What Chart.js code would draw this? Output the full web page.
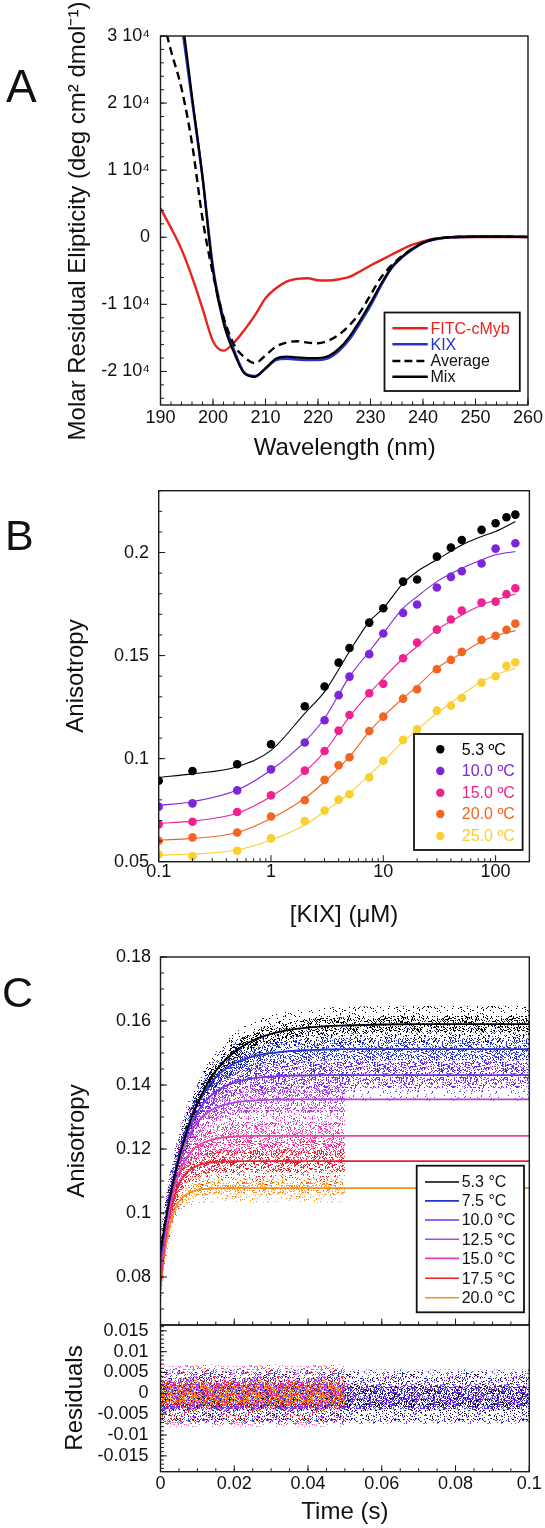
<!DOCTYPE html>
<html lang="en"><head><meta charset="utf-8"><title>Figure</title>
<script src="https://cdn.jsdelivr.net/npm/chart.js@4.4.1/dist/chart.umd.min.js"></script>
<style>
html,body{margin:0;padding:0;background:#ffffff;}
body{width:545px;height:1528px;position:relative;overflow:hidden;}
canvas{position:absolute;left:0;}
</style></head><body>
<canvas id="chartA" width="545" height="470" style="top:0px"></canvas>
<canvas id="chartB" width="545" height="490" style="top:460px"></canvas>
<canvas id="chartC" width="545" height="425" style="top:925px"></canvas>
<canvas id="chartR" width="545" height="238" style="top:1290px"></canvas>
<script>
// ---------------- Panel A : CD spectra ----------------
const aWavelength = [190,192,194,196,198,200,202,204,206,208,210,212,214,216,218,220,222,224,226,228,230,232,234,236,238,240,242,245,250,255,260];
const aFitcCmyb = [4300,1400,-1800,-5900,-10600,-15500,-16900,-15700,-13800,-11600,-9100,-7600,-6600,-6200,-6100,-6400,-6450,-6250,-5900,-5100,-4200,-3400,-2600,-1800,-1100,-600,-250,-30,50,50,0];
const aKix = [55000,44000,32000,20500,9000,-4500,-12200,-16800,-20200,-20700,-19600,-18300,-18100,-18200,-18300,-18300,-18000,-16900,-15200,-12800,-10200,-7200,-4600,-3000,-1800,-850,-350,0,100,100,50];
const aAverage = [34000,27800,22200,14000,2800,-5500,-11900,-16000,-17900,-18760,-17600,-16300,-15700,-15500,-15700,-15800,-15400,-14500,-13100,-11200,-8600,-6000,-4200,-2800,-1700,-800,-300,0,100,100,50];
const aMix = [56000,45000,33500,21000,9000,-5000,-12800,-17200,-20300,-20800,-19500,-18100,-17800,-17900,-18000,-18000,-17700,-16600,-14800,-12400,-9800,-7000,-4500,-2900,-1700,-800,-300,0,100,100,50];
const aLabels = ['FITC-cMyb','KIX','Average','Mix'];
const aXTicks = [190,200,210,220,230,240,250,260];
const aXTickLabels = ['190','200','210','220','230','240','250','260'];
const aYTicks = [-20000,-10000,0,10000,20000,30000];
const aYTickLabels = ['-2 10\u2074','-1 10\u2074','0','1 10\u2074','2 10\u2074','3 10\u2074'];

// ---------------- Panel B : anisotropy titrations ----------------
const bConc = [0.1,0.2,0.5,1,2,3,4,5,7.5,10,15,20,30,40,50,75,100,125,150];
const b53 = [0.0893,0.0940,0.0973,0.1070,0.1254,0.1350,0.1466,0.1537,0.1660,0.1730,0.1859,0.1869,0.1980,0.2024,0.2061,0.2110,0.2142,0.2171,0.2184];
const b100 = [0.0767,0.0783,0.0846,0.0948,0.1078,0.1186,0.1308,0.1398,0.1507,0.1607,0.1707,0.1748,0.1830,0.1882,0.1909,0.1947,0.2019,null,0.2045];
const b150 = [0.0681,0.0694,0.0741,0.0822,0.0942,0.1037,0.1136,0.1212,0.1317,0.1363,0.1487,0.1563,0.1626,0.1675,0.1718,0.1757,0.1762,0.1798,0.1827];
const b200 = [0.0602,0.0618,0.0642,0.0719,0.0798,0.0897,0.0968,0.1007,0.1134,0.1204,0.1291,0.1337,0.1434,0.1479,0.1518,0.1576,0.1596,0.1625,0.1655];
const b250 = [0.0536,0.0526,0.0553,0.0613,0.0697,0.0748,0.0801,0.0827,0.0909,0.0990,0.1091,0.1142,0.1233,0.1257,0.1295,0.1369,0.1400,0.1450,0.1468];
const bFitConc = [0.1,0.2,0.5,1,2,3,5,7.5,10,15,20,30,50,75,100,150];
const bFit53 = [0.0909,0.0926,0.0961,0.1040,0.1220,0.1325,0.1520,0.1665,0.1730,0.1850,0.1908,0.1965,0.2037,0.2078,0.2102,0.2150];
const bFit100 = [0.0773,0.0791,0.0848,0.0945,0.1083,0.1196,0.1398,0.1520,0.1608,0.1730,0.1786,0.1859,0.1924,0.1964,0.1989,0.2005];
const bFit150 = [0.0686,0.0697,0.0735,0.0816,0.0937,0.1034,0.1204,0.1317,0.1390,0.1487,0.1544,0.1625,0.1697,0.1746,0.1770,0.1798];
const bFit200 = [0.0605,0.0613,0.0642,0.0710,0.0808,0.0888,0.1010,0.1131,0.1204,0.1293,0.1350,0.1439,0.1511,0.1568,0.1596,0.1621];
const bFit250 = [0.0532,0.0537,0.0557,0.0605,0.0678,0.0743,0.0832,0.0921,0.0986,0.1083,0.1139,0.1220,0.1309,0.1374,0.1406,0.1439];
const bLabels = ['5.3 \u00baC','10.0 \u00baC','15.0 \u00baC','20.0 \u00baC','25.0 \u00baC'];
const bXTicks = [0.1,1,10,100];
const bXTickLabels = ['0.1','1','10','100'];
const bYTicks = [0.05,0.1,0.15,0.2];
const bYTickLabels = ['0.05','0.1','0.15','0.2'];

// ---------------- Panel C : stopped-flow kinetics ----------------
const cTime = [0,0.001,0.002,0.003,0.004,0.005,0.006,0.008,0.01,0.012,0.015,0.02,0.025,0.03,0.035,0.04,0.045,0.05,0.06,0.07,0.08,0.09,0.1];
const c53  = [0.0880,0.0951,0.1015,0.1072,0.1124,0.1170,0.1212,0.1284,0.1342,0.1389,0.1444,0.1503,0.1539,0.1560,0.1572,0.1579,0.1584,0.1586,0.1589,0.1590,0.1590,0.1590,0.1590];
const c75  = [0.0860,0.0941,0.1013,0.1075,0.1129,0.1178,0.1219,0.1288,0.1340,0.1380,0.1424,0.1467,0.1489,0.1500,0.1506,0.1509,0.1511,0.1512,0.1512,0.1512,0.1512,0.1512,0.1512];
const c100 = [0.0850,0.0937,0.1010,0.1073,0.1126,0.1172,0.1210,0.1271,0.1315,0.1347,0.1379,0.1408,0.1421,0.1426,0.1429,0.1430,0.1431,0.1431,0.1431,0.1431,0.1431,0.1431,0.1431];
const c125 = [0.0830,0.0925,0.1003,0.1067,0.1119,0.1162,0.1197,0.1249,0.1284,0.1307,0.1329,0.1345,0.1351,0.1354,0.1355,0.1355,0.1355,0.1355,0.1355,0.1355,0.1355,0.1355,0.1355];
const c150 = [0.0800,0.0902,0.0980,0.1041,0.1087,0.1123,0.1150,0.1187,0.1209,0.1222,0.1232,0.1239,0.1241,0.1241,0.1241,0.1241,0.1241,0.1241,0.1241,0.1241,0.1241,0.1241,0.1241];
const c175 = [0.0780,0.0888,0.0966,0.1021,0.1061,0.1090,0.1110,0.1135,0.1148,0.1155,0.1159,0.1162,0.1162,0.1162,0.1162,0.1162,0.1162,0.1162,0.1162,0.1162,0.1162,0.1162,0.1162];
const c200 = [0.0760,0.0865,0.0935,0.0982,0.1014,0.1035,0.1049,0.1065,0.1072,0.1075,0.1078,0.1078,0.1078,0.1078,0.1078,0.1078,0.1078,0.1078,0.1078,0.1078,0.1078,0.1078,0.1078];
const cLabels = ['5.3 \u00b0C','7.5 \u00b0C','10.0 \u00b0C','12.5 \u00b0C','15.0 \u00b0C','17.5 \u00b0C','20.0 \u00b0C'];
const cDataEnd = [0.1,0.1,0.1,0.05,0.05,0.05,0.05];                       // last time of the measured traces
const cSpreadOuter = [0.0058,0.0075,0.0080,0.0080,0.0090,0.0075,0.0045];  // full extent of data cloud
const cSpreadInner = [0.0026,0.0035,0.0040,0.0040,0.0045,0.0035,0.0020];  // dense core of data cloud
const rCenter = [-0.0008,-0.0008,-0.0008,-0.0005,-0.0005,-0.0005,-0.0004];
const rSpreadOuter = [0.0060,0.0065,0.0065,0.0070,0.0075,0.0065,0.0040];
const rSpreadInner = [0.0025,0.0030,0.0030,0.0030,0.0035,0.0030,0.0022];
const cXTicks = [0,0.02,0.04,0.06,0.08,0.1];
const cXTickLabels = ['0','0.02','0.04','0.06','0.08','0.1'];
const cYTicks = [0.08,0.1,0.12,0.14,0.16,0.18];
const cYTickLabels = ['0.08','0.1','0.12','0.14','0.16','0.18'];
const rYTicks = [-0.015,-0.01,-0.005,0,0.005,0.01,0.015];
const rYTickLabels = ['-0.015','-0.01','-0.005','0','0.005','0.01','0.015'];

// ---------------- styling ----------------
const FONT = '"Liberation Sans", Arial, Helvetica, sans-serif';
const aColors = ['#E8231E','#2436C4','#000000','#000000'];
const bColors = ['#000000','#7D25DB','#F0228F','#F26522','#F8D030'];
const cColors = ['#000000','#2233D0','#7A30E8','#B642E6','#EA3FA8','#E8212B','#F5901E'];
const rInnerDensity = [0.16,0.18,0.18,0.16,0.18,0.16,0.34];
Chart.defaults.font.family = FONT;
Chart.defaults.color = '#111';

function range(a, b, step) { const r = []; for (let v = a; v <= b + step * 1e-6; v += step) r.push(+v.toFixed(6)); return r; }
function xy(xs, ys) { return xs.map((x, i) => ({x, y: ys[i]})); }

// speckle texture (fixed hash of pixel position) used to render the dense scatter clouds as a fill
function stipple(ctx, color, seed, frac) {
  const W = 64, H = 64;
  const t = document.createElement('canvas'); t.width = W; t.height = H;
  const g = t.getContext('2d'); g.fillStyle = color;
  for (let y = 0; y < H; y++) for (let x = 0; x < W; x++) {
    const h = Math.sin((x + seed * 17.3) * 12.9898 + (y + seed * 5.7) * 78.233) * 43758.5453;
    if (h - Math.floor(h) < frac) g.fillRect(x, y, 1, 1);
  }
  return ctx.createPattern(t, 'repeat');
}

// frame + inward ticks
const frameTicks = {
  id: 'frameTicks',
  afterDraw(chart, args, o) {
    const ctx = chart.ctx, a = chart.chartArea;
    ctx.save();
    ctx.strokeStyle = '#1a1a1a';
    ctx.lineWidth = 1;
    ['x','y'].forEach(id => {
      const cfg = o[id]; if (!cfg) return;
      const sc = chart.scales[id];
      const marks = cfg.major.map(v => [v, 6.5]).concat((cfg.minor || []).map(v => [v, 3.5]));
      ctx.beginPath();
      marks.forEach(([v, len]) => {
        const p = sc.getPixelForValue(v);
        if (id === 'x') { if (p < a.left - 0.5 || p > a.right + 0.5) return; ctx.moveTo(p, a.bottom); ctx.lineTo(p, a.bottom - len); }
        else { if (p < a.top - 0.5 || p > a.bottom + 0.5) return; ctx.moveTo(a.left, p); ctx.lineTo(a.left + len, p); }
      });
      ctx.stroke();
    });
    ctx.lineWidth = 1.4;
    ctx.strokeRect(a.left, a.top, a.right - a.left, a.bottom - a.top);
    ctx.restore();
  }
};

// in-plot boxed legend
const boxLegend = {
  id: 'boxLegend',
  afterDraw(chart, args, o) {
    if (!o || !o.items) return;
    const ctx = chart.ctx, oy = o.offsetY;
    const [x1, y1, x2, y2] = o.box;
    ctx.save();
    ctx.fillStyle = '#fff';
    ctx.fillRect(x1, y1 - oy, x2 - x1, y2 - y1);
    ctx.lineWidth = 1.8; ctx.strokeStyle = '#111';
    ctx.strokeRect(x1, y1 - oy, x2 - x1, y2 - y1);
    ctx.font = o.fontSize + 'px ' + FONT;
    ctx.textBaseline = 'middle'; ctx.textAlign = 'left';
    o.items.forEach((it, i) => {
      const y = o.ys[i] - oy;
      if (it.kind === 'dot') {
        ctx.beginPath(); ctx.arc(o.markX, y, o.r, 0, Math.PI * 2); ctx.fillStyle = it.color; ctx.fill();
      } else {
        ctx.beginPath(); ctx.setLineDash(it.dash || []); ctx.lineWidth = o.lineWidth; ctx.strokeStyle = it.color;
        ctx.moveTo(o.lineX[0], y); ctx.lineTo(o.lineX[1], y); ctx.stroke(); ctx.setLineDash([]);
      }
      ctx.fillStyle = it.textColor; ctx.fillText(it.label, o.textX, y + 1);
    });
    ctx.restore();
  }
};

// titles and panel letters
const texts = {
  id: 'texts',
  afterDraw(chart, args, o) {
    if (!o || !o.list) return;
    const ctx = chart.ctx;
    o.list.forEach(t => {
      ctx.save();
      ctx.fillStyle = '#111';
      ctx.font = t.size + 'px ' + FONT;
      ctx.textAlign = t.align || 'center';
      ctx.textBaseline = t.baseline || 'middle';
      ctx.translate(t.x, t.y - o.offsetY);
      if (t.rot) ctx.rotate(-Math.PI / 2);
      ctx.fillText(t.text, 0, 0);
      ctx.restore();
    });
  }
};
Chart.register(frameTicks, boxLegend, texts);

// size = width (left axis) or height (bottom axis) reserved for the axis box
function axis(type, min, max, pos, ticks, labels, pad, size, show = true) {
  return {
    type, min, max, position: pos,
    grid: {display: false, drawTicks: false},
    border: {display: false},
    afterFit: s => { if (pos === 'left') s.width = size; else s.height = size; },
    afterBuildTicks: s => { s.ticks = ticks.map(v => ({value: v})); },
    ticks: {
      display: show, padding: pad, autoSkip: false, maxRotation: 0, minRotation: 0,
      color: '#111', font: {family: FONT, size: 18},
      callback: v => { const i = ticks.indexOf(v); return i >= 0 ? labels[i] : ''; }
    }
  };
}
function base(padding) {
  return {
    responsive: false, animation: false, devicePixelRatio: 1,
    layout: {padding},
    plugins: {legend: {display: false}, tooltip: {enabled: false}},
    elements: {point: {radius: 0}}
  };
}
function band(data, fillColor) {
  return {data, borderColor: 'rgba(0,0,0,0)', borderWidth: 0, pointRadius: 0, fill: fillColor ? '-1' : false,
          backgroundColor: fillColor || 'rgba(0,0,0,0)', cubicInterpolationMode: 'monotone'};
}

// ================= Chart A =================
(function () {
  const OY = 0;
  const opts = base({left: 0, top: 36, right: 16, bottom: 0});
  opts.scales = {
    x: axis('linear', 190, 260, 'bottom', aXTicks, aXTickLabels, 2, 65),
    y: axis('linear', -25000, 30000, 'left', aYTicks, aYTickLabels, 10.5, 160.5)
  };
  opts.plugins.frameTicks = {x: {major: aXTicks, minor: range(190, 260, 2)}, y: {major: aYTicks, minor: range(-24000, 30000, 2000)}};
  opts.plugins.boxLegend = {
    offsetY: OY, box: [384.5, 312.5, 519.8, 391], ys: [328.3, 344.3, 361, 376.7],
    lineX: [392.4, 427.8], textX: 430.5, fontSize: 16, lineWidth: 2.6,
    items: [
      {label: aLabels[0], color: aColors[0], textColor: aColors[0]},
      {label: aLabels[1], color: aColors[1], textColor: aColors[1]},
      {label: aLabels[2], color: aColors[2], textColor: '#111', dash: [8, 4]},
      {label: aLabels[3], color: aColors[3], textColor: '#111'}
    ]
  };
  opts.plugins.texts = {offsetY: OY, list: [
    {text: 'A', x: 6, y: 102, size: 46, align: 'left', baseline: 'alphabetic'},
    {text: 'Molar Residual Elipticity (deg cm\u00b2 dmol\u207b\u00b9)', x: 78, y: 221, size: 24, rot: true},
    {text: 'Wavelength (nm)', x: 344.7, y: 448, size: 24}
  ]};
  const ds = [
    {data: xy(aWavelength, aFitcCmyb), borderColor: aColors[0], borderWidth: 2.4, order: 3},
    {data: xy(aWavelength, aKix), borderColor: aColors[1], borderWidth: 2.6, order: 2},
    {data: xy(aWavelength, aAverage), borderColor: aColors[2], borderWidth: 2.4, borderDash: [8, 5], order: 1},
    {data: xy(aWavelength, aMix), borderColor: aColors[3], borderWidth: 2.2, order: 0}
  ].map(d => Object.assign(d, {pointRadius: 0, fill: false, cubicInterpolationMode: 'monotone'}));
  new Chart(document.getElementById('chartA'), {type: 'line', data: {datasets: ds}, options: opts});
})();

// ================= Chart B =================
(function () {
  const OY = 460;
  const opts = base({left: 0, top: 30.7, right: 15.6, bottom: 0});
  const minor = [];
  [0.1, 1, 10, 100].forEach(d => { for (let k = 2; k <= 9; k++) if (k * d <= 200) minor.push(+(k * d).toFixed(4)); });
  opts.scales = {
    x: axis('logarithmic', 0.1, 200, 'bottom', bXTicks, bXTickLabels, 0, 88.3),
    y: axis('linear', 0.05, 0.23, 'left', bYTicks, bYTickLabels, 9.7, 158.7)
  };
  opts.plugins.frameTicks = {x: {major: bXTicks, minor}, y: {major: bYTicks, minor: range(0.06, 0.23, 0.01)}};
  opts.plugins.boxLegend = {
    offsetY: OY, box: [414, 734, 522.6, 850], ys: [749.3, 771, 792.7, 814, 836],
    markX: 440.3, r: 4.2, textX: 461.8, fontSize: 16,
    items: bLabels.map((l, i) => ({label: l, color: bColors[i], textColor: bColors[i], kind: 'dot'}))
  };
  opts.plugins.texts = {offsetY: OY, list: [
    {text: 'B', x: 5, y: 550, size: 43, align: 'left', baseline: 'alphabetic'},
    {text: 'Anisotropy', x: 76, y: 676, size: 24, rot: true},
    {text: '[KIX] (\u03bcM)', x: 344, y: 915, size: 24}
  ]};
  const pts = [b53, b100, b150, b200, b250];
  const fits = [bFit53, bFit100, bFit150, bFit200, bFit250];
  const ds = [];
  fits.forEach((f, i) => ds.push({data: xy(bFitConc, f), borderColor: bColors[i], borderWidth: 1.1, pointRadius: 0, fill: false, cubicInterpolationMode: 'monotone', order: 10 + i}));
  pts.forEach((p, i) => ds.push({data: xy(bConc, p).filter(d => d.y !== null), showLine: false, pointRadius: 4.3, pointBorderWidth: 0, pointBackgroundColor: bColors[i], borderColor: bColors[i], order: i}));
  new Chart(document.getElementById('chartB'), {type: 'line', data: {datasets: ds}, options: opts});
})();

// ================= Chart C (anisotropy vs time) =================
const cFits = [c53, c75, c100, c125, c150, c175, c200];
(function () {
  const OY = 925;
  const canvas = document.getElementById('chartC');
  const ctx = canvas.getContext('2d');
  const opts = base({left: 0, top: 32, right: 15.7, bottom: 0});
  opts.scales = {
    x: axis('linear', 0, 0.1, 'bottom', cXTicks, cXTickLabels, 2, 25, false),
    y: axis('linear', 0.065, 0.18, 'left', cYTicks, cYTickLabels, 9.5, 160.5)
  };
  opts.plugins.frameTicks = {x: {major: cXTicks, minor: range(0, 0.1, 0.005)}, y: {major: cYTicks, minor: range(0.065, 0.18, 0.005)}};
  opts.plugins.boxLegend = {
    offsetY: OY, box: [416.7, 1165.7, 524, 1312.3], ys: [1182, 1200.9, 1220, 1239.3, 1258.4, 1278.3, 1297.8],
    lineX: [425, 459], textX: 461.7, fontSize: 16, lineWidth: 1.6,
    items: cLabels.map((l, i) => ({label: l, color: cColors[i], textColor: '#111'}))
  };
  opts.plugins.texts = {offsetY: OY, list: [
    {text: 'C', x: 2, y: 1007, size: 43, align: 'left', baseline: 'alphabetic'},
    {text: 'Anisotropy', x: 77, y: 1141, size: 24, rot: true}
  ]};
  const ds = [];
  cFits.forEach((fit, k) => {
    [[cSpreadOuter, 0.08, 40], [cSpreadInner, 0.22, 30]].forEach(([spr, frac, ord], layer) => {
      const up = [], lo = [];
      cTime.forEach((t, i) => { if (t <= cDataEnd[k] + 1e-9) { up.push({x: t, y: fit[i] + spr[k]}); lo.push({x: t, y: fit[i] - spr[k]}); } });
      const u = band(up), l = band(lo, stipple(ctx, cColors[k], k * 2 + layer + 1, frac));
      u.order = l.order = ord + k;
      ds.push(u, l);
    });
  });
  cFits.forEach((fit, k) => ds.push({data: xy(cTime, fit), borderColor: cColors[k], borderWidth: 1.8, pointRadius: 0, fill: false, order: k, cubicInterpolationMode: 'monotone'}));
  new Chart(canvas, {type: 'line', data: {datasets: ds}, options: opts});
})();

// ================= Chart C (residuals) =================
(function () {
  const OY = 1290;
  const canvas = document.getElementById('chartR');
  const ctx = canvas.getContext('2d');
  const opts = base({left: 0, top: 35, right: 15.7, bottom: 0});
  opts.scales = {
    x: axis('linear', 0, 0.1, 'bottom', cXTicks, cXTickLabels, 2, 56.3),
    y: axis('linear', -0.0188, 0.0164, 'left', rYTicks, rYTickLabels, 12, 160.5)
  };
  opts.plugins.frameTicks = {x: {major: cXTicks, minor: range(0, 0.1, 0.005)}, y: {major: rYTicks, minor: range(-0.018, 0.016, 0.001)}};
  opts.plugins.texts = {offsetY: OY, list: [
    {text: 'Residuals', x: 75.5, y: 1398, size: 24, rot: true},
    {text: 'Time (s)', x: 344.9, y: 1512, size: 24}
  ]};
  const ds = [];
  cFits.forEach((fit, k) => {
    const ends = [0, cDataEnd[k]];
    [[rSpreadOuter, 0.07, 40], [rSpreadInner, rInnerDensity[k], 30]].forEach(([spr, frac, ord], layer) => {
      const u = band(ends.map(t => ({x: t, y: rCenter[k] + spr[k]})));
      const l = band(ends.map(t => ({x: t, y: rCenter[k] - spr[k]})), stipple(ctx, cColors[k], 20 + k * 2 + layer, frac));
      u.order = l.order = ord + 9 - k;
      ds.push(u, l);
    });
  });
  new Chart(canvas, {type: 'line', data: {datasets: ds}, options: opts});
})();
</script>
</body></html>
